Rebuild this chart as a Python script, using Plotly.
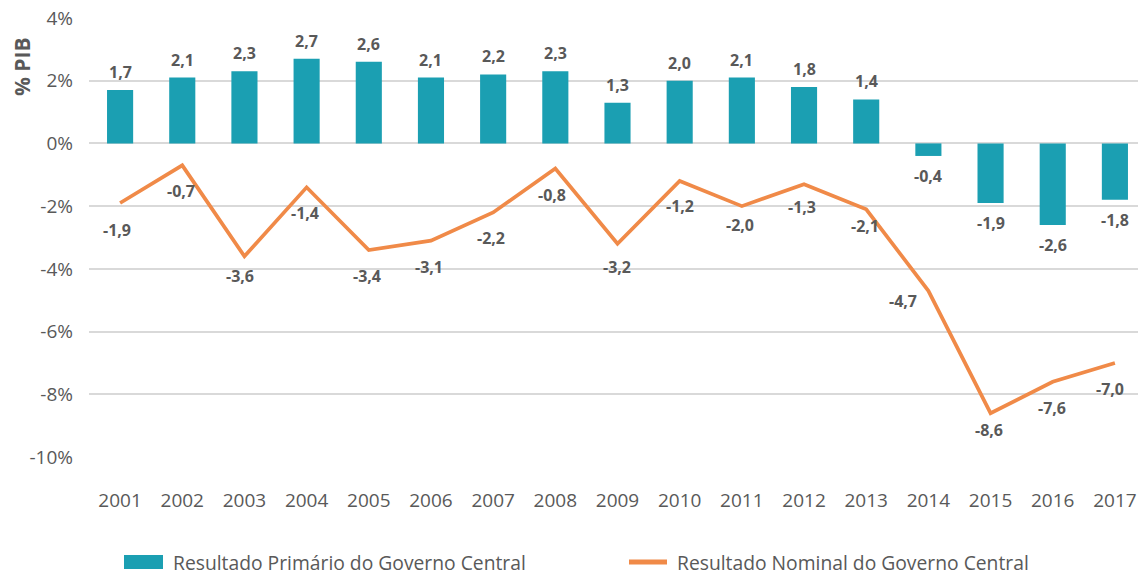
import plotly.graph_objects as go

years = [str(y) for y in range(2001, 2018)]
primario = [1.7, 2.1, 2.3, 2.7, 2.6, 2.1, 2.2, 2.3, 1.3, 2.0, 2.1, 1.8, 1.4, -0.4, -1.9, -2.6, -1.8]
nominal = [-1.9, -0.7, -3.6, -1.4, -3.4, -3.1, -2.2, -0.8, -3.2, -1.2, -2.0, -1.3, -2.1, -4.7, -8.6, -7.6, -7.0]
y_ticks = [4, 2, 0, -2, -4, -6, -8, -10]
y_ticktext = [f"{t}%" for t in y_ticks]

name_prim = "Resultado Primário do Governo Central"
name_nom = "Resultado Nominal do Governo Central"

TEAL = "#1B9FB2"
ORANGE = "#F08A48"
GRAY = "#595959"
GRID = "#D9D9D9"
FONT = "Open Sans"

def fmt(v):
    return f"{v:.1f}".replace(".", ",")

fig = go.Figure()
fig.add_trace(go.Bar(x=years, y=primario, name=name_prim, marker=dict(color=TEAL, line=dict(width=0)),
                     width=0.42, hoverinfo="skip"))
fig.add_trace(go.Scatter(x=years, y=nominal, name=name_nom, mode="lines",
                         line=dict(color=ORANGE, width=3.7), hoverinfo="skip"))

LBL = dict(family=FONT, size=16, color=GRAY, weight="bold")
ann = []
# bar labels (x given as category index)
for i, v in enumerate(primario):
    ann.append(dict(x=i, y=v, text=fmt(v), showarrow=False,
                    yshift=(18 if v >= 0 else -20), font=LBL))
# line label offsets (dx, dy in pixels; dy positive = downward)
offs = [(-3, 27), (-1, 26), (-4, 20), (-2, 26), (-2, 26), (-2, 26), (-2, 26), (-3, 26),
        (-1, 23), (0, 25), (-2, 19), (-2, 23), (-1, 17), (-25, 10), (-2, 17), (-1, 26), (-5, 26)]
for i, (v, (dx, dy)) in enumerate(zip(nominal, offs)):
    ann.append(dict(x=i, y=v, text=fmt(v), showarrow=False, xshift=dx, yshift=-dy, font=LBL))

# page-pixel helpers (plot area on page: x 89..1146, y 17..458; page has 8px body margin)
H = 441.0
W = 1057.0
def py(pix):
    return (458 - pix) / H
def px(pix):
    return (pix - 89) / W

# y axis title
ann.append(dict(xref="paper", yref="paper", x=px(22), y=py(67), text="% PIB", textangle=-90,
                showarrow=False, xanchor="center", yanchor="middle",
                font=dict(family=FONT, size=21, color=GRAY, weight="bold")))

# manual legend
shapes = [
    dict(type="rect", xref="paper", yref="paper", x0=px(124), x1=px(163), y0=py(569), y1=py(555),
         fillcolor=TEAL, line=dict(width=0)),
    dict(type="line", xref="paper", yref="paper", x0=px(629), x1=px(667), y0=py(562), y1=py(562),
         line=dict(color=ORANGE, width=5)),
]
ann.append(dict(xref="paper", yref="paper", x=px(171), y=py(562), text=name_prim, showarrow=False,
                xanchor="left", yanchor="middle", font=dict(family=FONT, size=19.3, color=GRAY)))
ann.append(dict(xref="paper", yref="paper", x=px(675), y=py(562), text=name_nom, showarrow=False,
                xanchor="left", yanchor="middle", font=dict(family=FONT, size=19.3, color=GRAY)))

fig.update_layout(
    width=1138, height=570,
    margin=dict(l=81, r=0, t=9, b=120),
    paper_bgcolor="white", plot_bgcolor="white",
    showlegend=False,
    font=dict(family=FONT, color=GRAY),
    annotations=ann, shapes=shapes,
)
fig.update_xaxes(type="category", range=[-0.5, len(years) - 0.5], autorange=False, automargin=False,
                 showgrid=False, showline=False, zeroline=False, ticks="",
                 tickfont=dict(family=FONT, size=19, color=GRAY), ticklabelstandoff=29)
fig.update_yaxes(range=[-10.03, 4.03], autorange=False, automargin=False, tickmode="array",
                 tickvals=y_ticks, ticktext=y_ticktext, showgrid=True,
                 gridcolor=GRID, gridwidth=1.5, zeroline=True, zerolinecolor=GRID, zerolinewidth=1.5,
                 showline=False, ticks="", tickfont=dict(family=FONT, size=19, color=GRAY),
                 ticklabelstandoff=15, ticklabeloverflow="allow")

fig.write_html("out.html")
